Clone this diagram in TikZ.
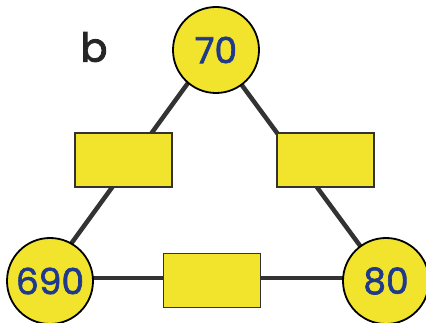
\documentclass[tikz,border=0pt]{standalone}
\usepackage{fontspec}
\setmainfont{Poppins}
\newfontfamily\numfont[FakeBold=1.8]{Poppins}
\newfontfamily\labfont[FakeBold=2.2]{Poppins}
\usetikzlibrary{backgrounds}
\definecolor{ylw}{HTML}{F2E42C}
\definecolor{numblue}{HTML}{1F3A8C}
\definecolor{linegray}{HTML}{333333}
\begin{document}
\begin{tikzpicture}[x=1pt,y=-1pt,
  numcircle/.style={circle,draw=black,line width=1.8pt,fill=ylw,minimum size=86pt,inner sep=0pt,
    font=\numfont\fontsize{36}{36}\selectfont,text=numblue},
  blankbox/.style={rectangle,draw=linegray,line width=1.6pt,fill=ylw,minimum width=97pt,minimum height=54pt,inner sep=0pt},
  conn/.style={linegray,line width=4.5pt}]
\useasboundingbox (0,0) rectangle (426,323);
\node[numcircle] (top) at (216,50) {70};
\node[numcircle] (bl) at (50,281) {690};
\node[numcircle] (br) at (386,281) {80};
\node[blankbox] (lbox) at (123.5,160) {};
\node[blankbox] (rbox) at (325.5,160) {};
\node[blankbox] (bbox) at (212,280.5) {};
\node[text=black!85,font=\labfont\fontsize{40}{40}\selectfont] (lab) at (94,47) {b};
\begin{scope}[on background layer]
\draw[conn] ([xshift=-4pt]top.center) -- ([xshift=-6pt]bl.center);
\draw[conn] (top.center) -- (br.center);
\draw[conn] ([yshift=3pt]bl.center) -- ([yshift=3pt]br.center);
\end{scope}
\end{tikzpicture}
\end{document}
